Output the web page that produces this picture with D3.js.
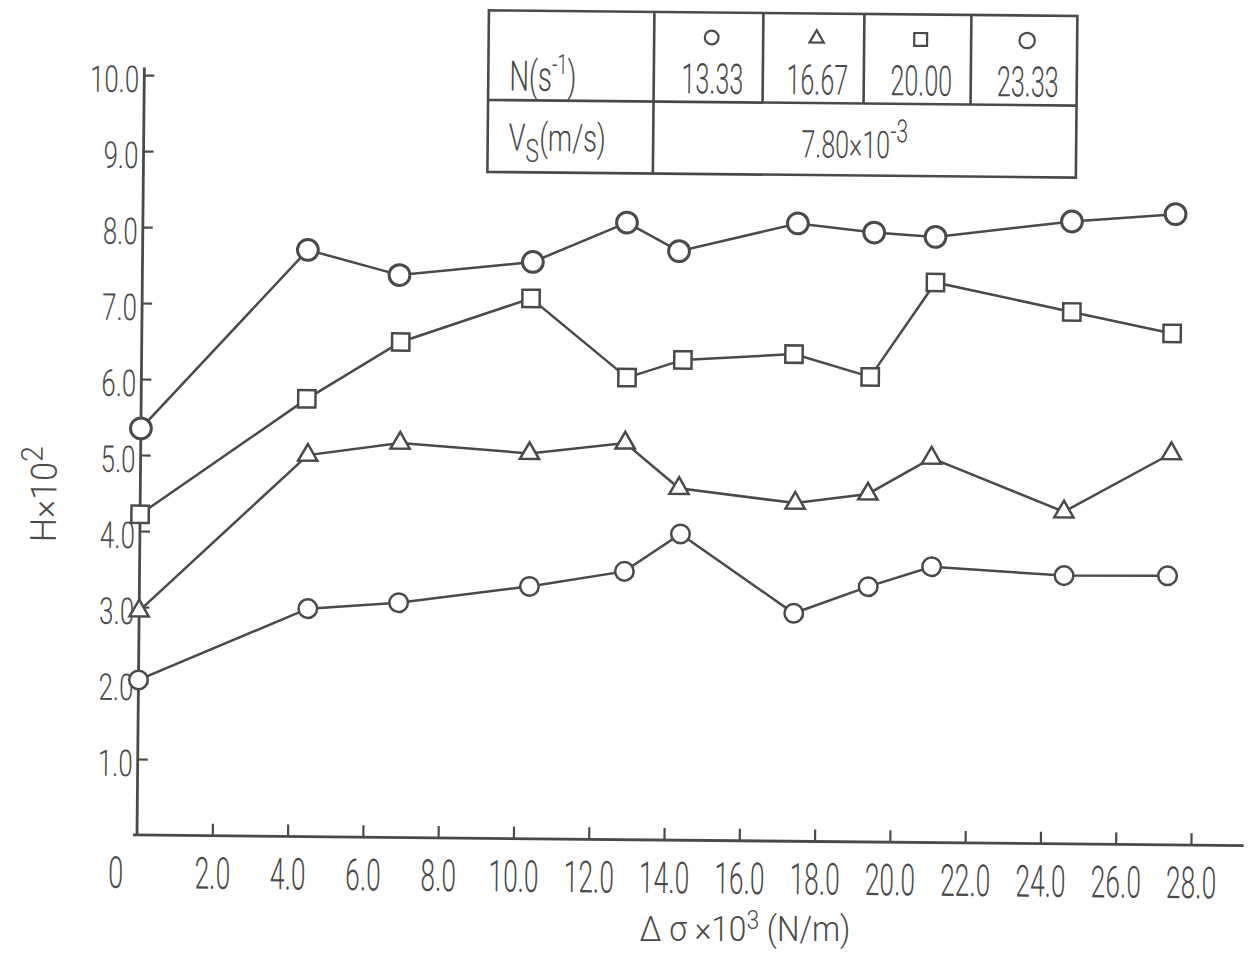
<!DOCTYPE html>
<html>
<head>
<meta charset="utf-8">
<script src="https://d3js.org/d3.v7.min.js"></script>
<style>
  body { margin: 0; background: #fff; }
  svg text { font-family: Roboto, "DejaVu Sans", sans-serif; font-weight: 300; fill: #4a4a4a; }
</style>
</head>
<body>
<svg id="chart" width="1251" height="956"></svg>
<script>
// rotation speeds N (s^-1), one series each
var nLabels = ["13.33", "16.67", "20.00", "23.33"];
var markers = ["circle", "triangle", "square", "circleBold"];

// Δσ x10^3 (N/m) read per series, H x10^2
var x1333 = [0, 4.48, 6.89, 10.36, 12.88, 14.36, 17.39, 19.36, 21.04, 24.56, 27.31];
var h1333 = [2.04, 3.0, 3.09, 3.32, 3.53, 4.03, 3.0, 3.36, 3.63, 3.53, 3.54];
var x1667 = [0, 4.44, 6.89, 10.33, 12.87, 14.31, 17.4, 19.33, 21.01, 24.54, 27.38];
var h1667 = [2.95, 5.02, 5.19, 5.07, 5.22, 4.63, 4.45, 4.58, 5.06, 4.37, 5.15];
var x2000 = [0, 4.4, 6.88, 10.33, 12.9, 14.38, 17.33, 19.36, 21.07, 24.7, 27.37];
var h2000 = [4.22, 5.76, 6.52, 7.11, 6.08, 6.32, 6.41, 6.12, 7.37, 7.0, 6.73];
var x2333 = [0, 4.39, 6.83, 10.37, 12.86, 14.25, 17.4, 19.43, 21.06, 24.68, 27.43];
var h2333 = [5.35, 7.72, 7.4, 7.59, 8.12, 7.75, 8.13, 8.02, 7.97, 8.19, 8.3];

var xTicks = [2, 4, 6, 8, 10, 12, 14, 16, 18, 20, 22, 24, 26, 28];
var yTicks = [1, 2, 3, 4, 5, 6, 7, 8, 9, 10];

var series = [
  { xs: x1333, ys: h1333, marker: markers[0] },
  { xs: x1667, ys: h1667, marker: markers[1] },
  { xs: x2000, ys: h2000, marker: markers[2] },
  { xs: x2333, ys: h2333, marker: markers[3] }
];

var ink = "#4a4a4a";
var svg = d3.select("#chart");
// the scanned page sits slightly skewed
var root = svg.append("g").attr("transform", "rotate(0.55,137,835)");

// squeeze glyphs horizontally like the hand lettering
function narrow(sel, sx) {
  sel.each(function() {
    var t = d3.select(this);
    var x0 = +(t.attr("x") || 0);
    var tr = t.attr("transform") || "";
    t.attr("x", x0 / sx).attr("transform", tr + " scale(" + sx + ",1)");
  });
}

var x = d3.scaleLinear().domain([0, 28]).range([137, 1191]);
var y = d3.scaleLinear().domain([0, 10]).range([835, 75]);

// axes
var xAxis = d3.axisBottom(x).tickValues(xTicks).tickSize(-12)
  .tickFormat(function(d) { return d.toFixed(1); });
var gx = root.append("g").attr("transform", "translate(0," + y(0) + ")").call(xAxis);
gx.select(".domain").remove();
gx.selectAll(".tick line").attr("stroke", ink).attr("stroke-width", 2.2);
gx.selectAll(".tick text").attr("font-size", 44).attr("fill", ink)
  .attr("y", 53).attr("dy", null).attr("x", 0).call(narrow, 0.6);
gx.append("line").attr("x1", x(0) - 4).attr("x2", x(29.4))
  .attr("stroke", ink).attr("stroke-width", 2.8);

var yAxis = d3.axisLeft(y).tickValues(yTicks).tickSize(-10).tickPadding(5)
  .tickFormat(function(d) { return d.toFixed(1); });
var gy = root.append("g").attr("transform", "translate(" + x(0) + ",0)").call(yAxis);
gy.select(".domain").remove();
gy.selectAll(".tick line").attr("stroke", ink).attr("stroke-width", 2.2);
gy.selectAll(".tick text").attr("font-size", 37).attr("fill", ink)
  .attr("dy", "0.45em").call(narrow, 0.7);
gy.append("line").attr("y1", y(0)).attr("y2", y(10.1))
  .attr("stroke", ink).attr("stroke-width", 2.8);

root.append("text").attr("x", x(0) - 21).attr("y", y(0) + 53)
  .attr("font-size", 44).attr("text-anchor", "middle").text("0").call(narrow, 0.62);

// axis titles
var xt = svg.append("text").attr("x", 745).attr("y", 941)
  .attr("font-size", 36).attr("text-anchor", "middle");
xt.append("tspan").text("Δ σ ×10");
xt.append("tspan").attr("dy", -12).attr("font-size", 26).text("3");
xt.append("tspan").attr("dy", 12).text("   (N/m)");
xt.call(narrow, 0.88);

var yt = root.append("text").attr("transform", "translate(53,543) rotate(-90)")
  .attr("font-size", 36);
yt.append("tspan").text("H×10");
yt.append("tspan").attr("dy", -14).attr("font-size", 30).text("2");
yt.call(narrow, 0.95);

// marker shapes
function symbolPath(kind, scale) {
  var type = d3.symbolCircle, size = 270;
  if (kind === "triangle") { type = d3.symbolTriangle; size = 160; }
  if (kind === "square") { type = d3.symbolSquare; size = 300; }
  if (kind === "circleBold") { size = 340; }
  return d3.symbol().type(type).size(size * scale)();
}

var line = d3.line().x(function(d) { return x(d[0]); }).y(function(d) { return y(d[1]); });

series.forEach(function(s) {
  var pts = s.xs.map(function(v, i) { return [v, s.ys[i]]; });
  root.append("path").datum(pts).attr("d", line)
    .attr("fill", "none").attr("stroke", ink).attr("stroke-width", 2.5);
});
series.forEach(function(s) {
  var pts = s.xs.map(function(v, i) { return [v, s.ys[i]]; });
  root.selectAll(null).data(pts).enter().append("path")
    .attr("transform", function(d) { return "translate(" + x(d[0]) + "," + y(d[1]) + ")"; })
    .attr("d", symbolPath(s.marker, 1))
    .attr("fill", "#fff").attr("stroke", ink)
    .attr("stroke-width", s.marker === "circleBold" ? 3 : 2.5);
});

// table legend
var tb = root.append("g");
var tl = 481, tr = 1069.5, tt = 7, tbm = 168.6, tmid = 96.6;
var cols = [646.5, 755.5, 856.5, 963.5, 1069.5];
tb.append("rect").attr("x", tl).attr("y", tt).attr("width", tr - tl).attr("height", tbm - tt)
  .attr("fill", "none").attr("stroke", ink).attr("stroke-width", 2.6);
tb.append("line").attr("x1", tl).attr("x2", tr).attr("y1", tmid).attr("y2", tmid)
  .attr("stroke", ink).attr("stroke-width", 2.6);
tb.append("line").attr("x1", cols[0]).attr("x2", cols[0]).attr("y1", tt).attr("y2", tbm)
  .attr("stroke", ink).attr("stroke-width", 2.6);
cols.slice(1, 4).forEach(function(c) {
  tb.append("line").attr("x1", c).attr("x2", c).attr("y1", tt).attr("y2", tmid)
    .attr("stroke", ink).attr("stroke-width", 2.6);
});
nLabels.forEach(function(lab, i) {
  var cx = (cols[i] + cols[i + 1]) / 2 + 4;
  tb.append("path").attr("transform", "translate(" + (cx - 1) + ",32)")
    .attr("d", symbolPath(markers[i], 0.55))
    .attr("fill", "#fff").attr("stroke", ink).attr("stroke-width", 2.2);
  tb.append("text").attr("x", cx).attr("y", 88).attr("font-size", 42)
    .attr("text-anchor", "middle").text(lab).call(narrow, 0.6);
});
var nt = tb.append("text").attr("x", 502).attr("y", 87).attr("font-size", 42);
nt.append("tspan").text("N(s");
nt.append("tspan").attr("dy", -17).attr("font-size", 28).text("-1");
nt.append("tspan").attr("dy", 17).text(")");
nt.call(narrow, 0.66);

var vt = tb.append("text").attr("x", 502).attr("y", 147).attr("font-size", 38);
vt.append("tspan").text("V");
vt.append("tspan").attr("dy", 11).attr("font-size", 32).text("S");
vt.append("tspan").attr("dy", -11).text("(m/s)");
vt.call(narrow, 0.72);

var vv = tb.append("text").attr("x", 848).attr("y", 151).attr("font-size", 38)
  .attr("text-anchor", "middle");
vv.append("tspan").text("7.80×10");
vv.append("tspan").attr("dy", -16).attr("font-size", 32).text("-3");
vv.call(narrow, 0.66);
</script>
</body>
</html>
